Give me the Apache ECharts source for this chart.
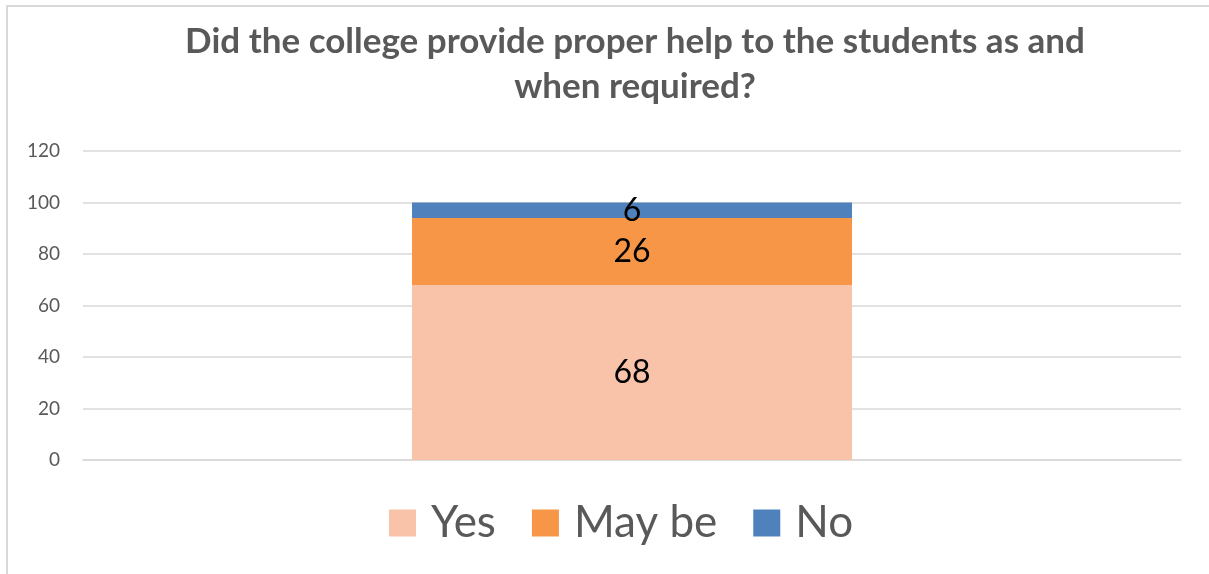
<!DOCTYPE html>
<html>
<head>
<meta charset="utf-8">
<script src="https://cdn.jsdelivr.net/npm/echarts@6/dist/echarts.min.js"></script>
<style>html,body{margin:0;padding:0;background:#fff;}#c{width:1209px;height:574px;}</style>
</head>
<body>
<div id="c"></div>
<script>
const categories = ['Q'];
const seriesNames = ['Yes', 'May be', 'No'];
const yesValues = [68];
const maybeValues = [26];
const noValues = [6];
const colors = ['#F8C3A8', '#F79646', '#4F81BD'];
const FONT = 'Lato, "Open Sans", sans-serif';

const chart = echarts.init(document.getElementById('c'));
const mk = (name, data, color) => ({
  name, type: 'bar', stack: 'total', data, barWidth: 440,
  itemStyle: { color },
  label: { show: true, position: 'inside', color: '#000', fontSize: 32, fontFamily: FONT }
});
chart.setOption({
  animation: false,
  graphic: [{ type: 'rect', shape: { x: 7, y: 6, width: 1220, height: 600 }, style: { fill: 'none', stroke: '#d9d9d9', lineWidth: 2 }, silent: true }],
  title: {
    text: 'Did the college provide proper help to the students as and\nwhen required?',
    left: 630, textAlign: 'center', top: 14,
    textStyle: { fontFamily: FONT, fontWeight: 'bold', fontSize: 35, color: '#595959', lineHeight: 45 }
  },
  legend: {
    bottom: 24, left: 384,
    itemWidth: 27, itemHeight: 27, itemGap: 36,
    icon: 'rect',
    textStyle: { fontFamily: FONT, fontSize: 44, color: '#595959', padding: [0, 0, 0, 10] },
    data: seriesNames
  },
  grid: { left: 83, right: 28, top: 151, bottom: 114 },
  xAxis: {
    type: 'category', data: categories,
    axisLine: { show: true, lineStyle: { color: '#d9d9d9', width: 1.5 } },
    axisTick: { show: false }, axisLabel: { show: false }
  },
  yAxis: {
    type: 'value', min: 0, max: 120, interval: 20,
    axisLine: { show: false }, axisTick: { show: false },
    axisLabel: { fontFamily: FONT, fontSize: 19, color: '#595959', margin: 23 },
    splitLine: { lineStyle: { color: '#d9d9d9', width: 1.5 } }
  },
  series: [
    mk(seriesNames[0], yesValues, colors[0]),
    mk(seriesNames[1], maybeValues, colors[1]),
    mk(seriesNames[2], noValues, colors[2])
  ]
});
</script>
</body>
</html>
